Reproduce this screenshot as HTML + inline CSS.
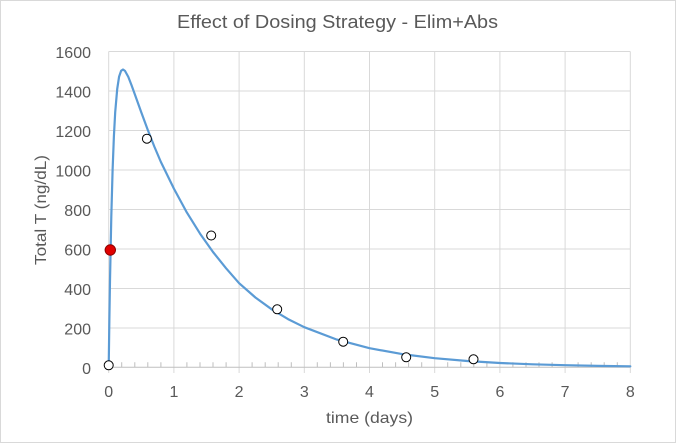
<!DOCTYPE html>
<html><head><meta charset="utf-8"><style>
html,body{margin:0;padding:0;background:#fff;}
svg{display:block;}
text{font-family:"Liberation Sans",Arial,sans-serif;fill:#595959;}
</style></head><body>
<svg width="676" height="443" viewBox="0 0 676 443" xmlns="http://www.w3.org/2000/svg">
<rect x="0.5" y="0.5" width="675" height="442" fill="#fff" stroke="#d9d9d9" stroke-width="1"/>
<text x="177" y="28" font-size="18" textLength="321" lengthAdjust="spacingAndGlyphs">Effect of Dosing Strategy - Elim+Abs</text>
<g stroke="#d9d9d9" stroke-width="1">
<line x1="108.7" x2="630.3" y1="51.5" y2="51.5"/>
<line x1="108.7" x2="630.3" y1="91" y2="91"/>
<line x1="108.7" x2="630.3" y1="130.5" y2="130.5"/>
<line x1="108.7" x2="630.3" y1="170" y2="170"/>
<line x1="108.7" x2="630.3" y1="209.5" y2="209.5"/>
<line x1="108.7" x2="630.3" y1="249" y2="249"/>
<line x1="108.7" x2="630.3" y1="288.5" y2="288.5"/>
<line x1="108.7" x2="630.3" y1="328" y2="328"/>
<line x1="108.7" x2="108.7" y1="51.5" y2="373"/>
<line x1="173.9" x2="173.9" y1="51.5" y2="373"/>
<line x1="239.1" x2="239.1" y1="51.5" y2="373"/>
<line x1="304.3" x2="304.3" y1="51.5" y2="373"/>
<line x1="369.5" x2="369.5" y1="51.5" y2="373"/>
<line x1="434.7" x2="434.7" y1="51.5" y2="373"/>
<line x1="499.9" x2="499.9" y1="51.5" y2="373"/>
<line x1="565.1" x2="565.1" y1="51.5" y2="373"/>
<line x1="630.3" x2="630.3" y1="51.5" y2="373"/>
</g>
<line x1="108.7" x2="630.3" y1="367.3" y2="367.3" stroke="#bfbfbf" stroke-width="1"/>
<g stroke="#bfbfbf" stroke-width="1">
<path d="M121.7 362.3V367.3M134.8 362.3V367.3M147.8 362.3V367.3M160.9 362.3V367.3M186.9 362.3V367.3M200 362.3V367.3M213 362.3V367.3M226.1 362.3V367.3M252.1 362.3V367.3M265.2 362.3V367.3M278.2 362.3V367.3M291.3 362.3V367.3M317.3 362.3V367.3M330.4 362.3V367.3M343.4 362.3V367.3M356.5 362.3V367.3M382.5 362.3V367.3M395.6 362.3V367.3M408.6 362.3V367.3M421.7 362.3V367.3M447.7 362.3V367.3M460.8 362.3V367.3M473.8 362.3V367.3M486.9 362.3V367.3M512.9 362.3V367.3M526 362.3V367.3M539 362.3V367.3M552.1 362.3V367.3M578.1 362.3V367.3M591.2 362.3V367.3M604.2 362.3V367.3M617.3 362.3V367.3"/>
</g>
<g font-size="16" text-anchor="end">
<text x="91" y="58">1600</text>
<text x="91" y="97.5">1400</text>
<text x="91" y="137">1200</text>
<text x="91" y="176.5">1000</text>
<text x="91" y="216">800</text>
<text x="91" y="255.5">600</text>
<text x="91" y="295">400</text>
<text x="91" y="334.5">200</text>
<text x="91" y="374">0</text>
</g>
<g font-size="16" text-anchor="middle">
<text x="108.7" y="397">0</text>
<text x="173.9" y="397">1</text>
<text x="239.1" y="397">2</text>
<text x="304.3" y="397">3</text>
<text x="369.5" y="397">4</text>
<text x="434.7" y="397">5</text>
<text x="499.9" y="397">6</text>
<text x="565.1" y="397">7</text>
<text x="630.3" y="397">8</text>
</g>
<text x="326" y="423" font-size="16" textLength="87" lengthAdjust="spacingAndGlyphs">time (days)</text>
<text transform="translate(46,265) rotate(-90)" font-size="16" textLength="110" lengthAdjust="spacingAndGlyphs">Total T (ng/dL)</text>
<polyline fill="none" stroke="#5b9bd5" stroke-width="2.2" stroke-linejoin="round" stroke-linecap="round" points="108.7,367.3 109.35,320.6 110.0,280.5 111.3,216.6 112.6,170.0 113.9,136.3 115.2,112.2 117.2,89.1 119.1,76.6 121.1,70.8 123.0,69.5 125.0,70.9 128.3,76.9 131.5,85.1 134.8,94.2 141.3,112.4 147.8,130.0 154.3,146.5 160.9,162.0 173.9,188.6 186.9,212.6 200.0,233.6 213.0,252.0 226.1,268.3 239.1,283.2 255.4,297.5 271.7,309.3 288.0,319.1 304.3,327.2 336.9,339.6 369.5,348.2 402.1,354.1 434.7,358.2 467.3,361.0 499.9,363.0 532.5,364.3 565.1,365.2 597.7,365.9 630.3,366.3"/>
<g fill="#fff" stroke="#000" stroke-width="1">
<circle cx="108.7" cy="365.3" r="4.5"/>
<circle cx="146.9" cy="138.7" r="4.5"/>
<circle cx="211.2" cy="235.5" r="4.5"/>
<circle cx="277.2" cy="309.3" r="4.5"/>
<circle cx="343.2" cy="341.7" r="4.5"/>
<circle cx="406.2" cy="357.3" r="4.5"/>
<circle cx="473.5" cy="359.3" r="4.5"/>
</g>
<circle cx="110.3" cy="250" r="5.2" fill="#e00000" stroke="#8b0000" stroke-width="1"/>
</svg>
</body></html>
